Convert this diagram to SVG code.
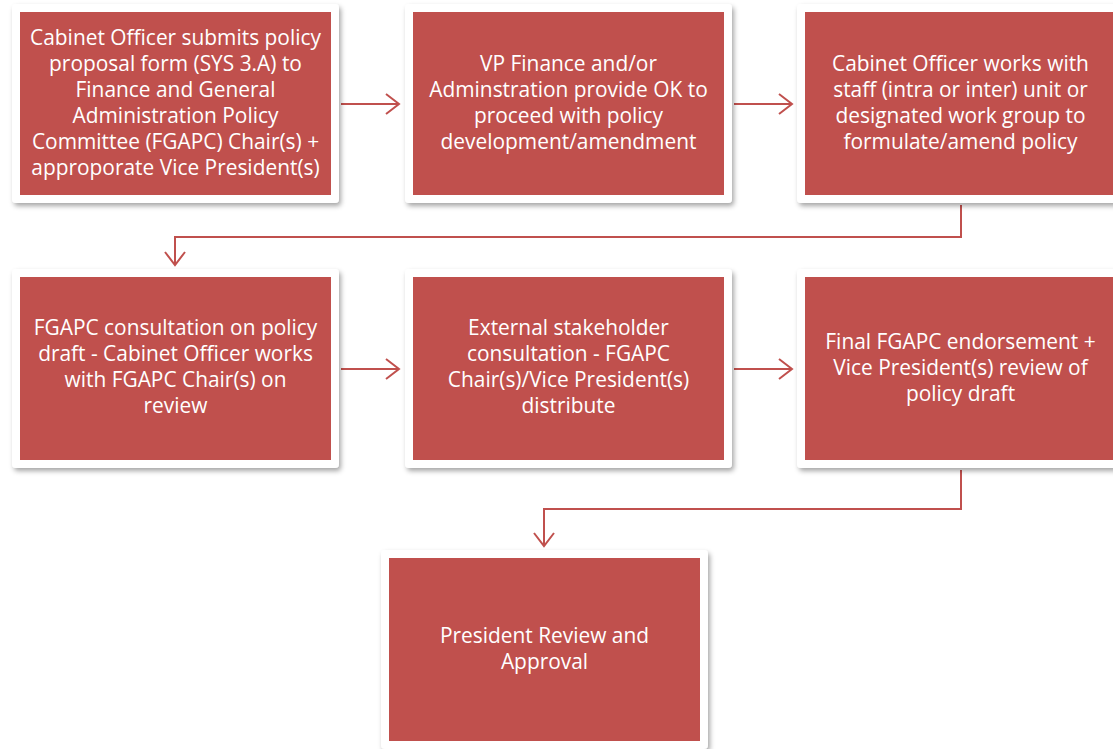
<svg xmlns="http://www.w3.org/2000/svg" width="1113" height="749" viewBox="0 0 1113 749">
<defs>
<filter id="sh" x="-10%" y="-10%" width="120%" height="125%">
<feDropShadow dx="2" dy="3" stdDeviation="2.5" flood-color="#000" flood-opacity="0.35"/>
</filter>
<marker id="ah" markerWidth="16" markerHeight="22" refX="14" refY="11" orient="auto" markerUnits="userSpaceOnUse">
<path d="M1,1 L14,11 L1,21" fill="none" stroke="#C0504D" stroke-width="2"/>
</marker>
<style>
.fr{fill:#fff;filter:url(#sh)}
.bx{fill:#C0504D}
.t{font-family:"Open Sans","Liberation Sans",sans-serif;font-size:20.9px;fill:#fff;text-anchor:middle}
.c{fill:none;stroke:#C0504D;stroke-width:2}
</style>
</defs>
<rect width="1113" height="749" fill="#fff"/>
<g id="connectors">
<line class="c" x1="341" y1="104" x2="399" y2="104" marker-end="url(#ah)"/>
<line class="c" x1="734" y1="104" x2="792" y2="104" marker-end="url(#ah)"/>
<polyline class="c" points="961,205 961,237 175,237 175,265" marker-end="url(#ah)"/>
<line class="c" x1="341" y1="369" x2="399" y2="369" marker-end="url(#ah)"/>
<line class="c" x1="734" y1="369" x2="792" y2="369" marker-end="url(#ah)"/>
<polyline class="c" points="961,470 961,509 544,509 544,546" marker-end="url(#ah)"/>
</g>
<g id="n1">
<rect class="fr" x="12" y="4" width="327" height="199" rx="4"/>
<rect class="bx" x="20" y="12" width="311" height="183"/>
<text class="t" x="175.5" y="45">Cabinet Officer submits policy<tspan x="175.5" dy="26">proposal form (SYS 3.A) to</tspan><tspan x="175.5" dy="26">Finance and General</tspan><tspan x="175.5" dy="26">Administration Policy</tspan><tspan x="175.5" dy="26">Committee (FGAPC) Chair(s) +</tspan><tspan x="175.5" dy="26">approporate Vice President(s)</tspan></text>
</g>
<g id="n2">
<rect class="fr" x="405" y="4" width="327" height="199" rx="4"/>
<rect class="bx" x="413" y="12" width="311" height="183"/>
<text class="t" x="568.5" y="71">VP Finance and/or<tspan x="568.5" dy="26">Adminstration provide OK to</tspan><tspan x="568.5" dy="26">proceed with policy</tspan><tspan x="568.5" dy="26">development/amendment</tspan></text>
</g>
<g id="n3">
<rect class="fr" x="797" y="4" width="327" height="199" rx="4"/>
<rect class="bx" x="805" y="12" width="311" height="183"/>
<text class="t" x="960.5" y="71">Cabinet Officer works with<tspan x="960.5" dy="26">staff (intra or inter) unit or</tspan><tspan x="960.5" dy="26">designated work group to</tspan><tspan x="960.5" dy="26">formulate/amend policy</tspan></text>
</g>
<g id="n4">
<rect class="fr" x="12" y="269" width="327" height="199" rx="4"/>
<rect class="bx" x="20" y="277" width="311" height="183"/>
<text class="t" x="175.5" y="335">FGAPC consultation on policy<tspan x="175.5" dy="26">draft - Cabinet Officer works</tspan><tspan x="175.5" dy="26">with FGAPC Chair(s) on</tspan><tspan x="175.5" dy="26">review</tspan></text>
</g>
<g id="n5">
<rect class="fr" x="405" y="269" width="327" height="199" rx="4"/>
<rect class="bx" x="413" y="277" width="311" height="183"/>
<text class="t" x="568.5" y="335">External stakeholder<tspan x="568.5" dy="26">consultation - FGAPC</tspan><tspan x="568.5" dy="26">Chair(s)/Vice President(s)</tspan><tspan x="568.5" dy="26">distribute</tspan></text>
</g>
<g id="n6">
<rect class="fr" x="797" y="269" width="327" height="199" rx="4"/>
<rect class="bx" x="805" y="277" width="311" height="183"/>
<text class="t" x="960.5" y="349">Final FGAPC endorsement +<tspan x="960.5" dy="26">Vice President(s) review of</tspan><tspan x="960.5" dy="26">policy draft</tspan></text>
</g>
<g id="n7">
<rect class="fr" x="381" y="550" width="327" height="199" rx="4"/>
<rect class="bx" x="389" y="558" width="311" height="183"/>
<text class="t" x="544.5" y="643">President Review and<tspan x="544.5" dy="26">Approval</tspan></text>
</g>
</svg>
